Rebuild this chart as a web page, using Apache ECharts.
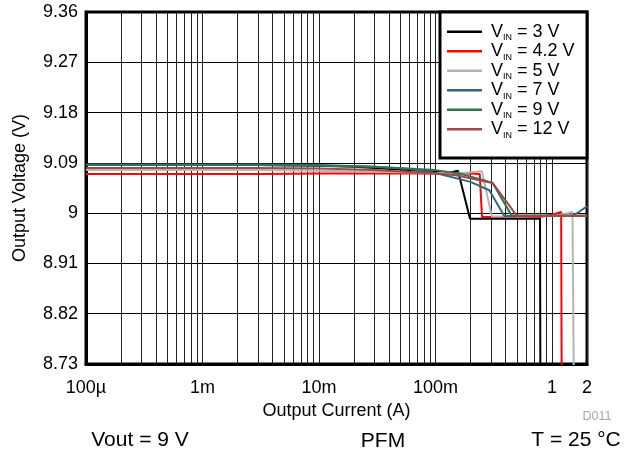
<!DOCTYPE html>
<html>
<head>
<meta charset="utf-8">
<script src="https://cdn.jsdelivr.net/npm/echarts@6/dist/echarts.min.js"></script>
<style>
html,body{margin:0;padding:0;background:#fff;}
#chart{width:624px;height:456px;}
</style>
</head>
<body>
<div id="chart"></div>
<script>
// ---- data (Output Current in A, Output Voltage in V) ----
const vinLabels = ['3 V', '4.2 V', '5 V', '7 V', '9 V', '12 V'];
const seriesColors = ['#000000', '#FF0000', '#B4B4B4', '#33667F', '#2F7550', '#A04848'];

const current_3V = [0.0001, 0.0003, 0.001, 0.003, 0.01, 0.02, 0.05, 0.1, 0.13, 0.156, 0.198, 0.3, 0.5, 0.79, 0.8];
const vout_3V    = [9.086, 9.086, 9.086, 9.086, 9.085, 9.083, 9.078, 9.074, 9.072, 9.076, 8.990, 8.990, 8.990, 8.990, 8.5];

const current_4V2 = [0.0001, 0.0003, 0.001, 0.003, 0.01, 0.03, 0.1, 0.2, 0.24, 0.251, 0.4, 0.78, 1.0, 1.2, 1.22];
const vout_4V2    = [9.070, 9.070, 9.070, 9.070, 9.071, 9.071, 9.071, 9.071, 9.070, 8.993, 8.993, 8.993, 8.997, 9.002, 8.5];

const current_5V = [0.0001, 0.0003, 0.001, 0.003, 0.01, 0.03, 0.1, 0.16, 0.2, 0.25, 0.305, 0.5, 1.0, 1.3, 1.5, 1.57];
const vout_5V    = [9.077, 9.077, 9.077, 9.077, 9.076, 9.074, 9.072, 9.071, 9.073, 9.075, 8.994, 8.994, 8.995, 8.999, 9.002, 8.5];

const current_7V = [0.0001, 0.0003, 0.001, 0.003, 0.01, 0.03, 0.06, 0.1, 0.2, 0.29, 0.39, 0.6, 1.0, 1.5, 1.7, 2.0];
const vout_7V    = [9.087, 9.087, 9.087, 9.087, 9.086, 9.083, 9.079, 9.072, 9.056, 9.041, 8.995, 8.995, 8.995, 8.996, 9.002, 9.012];

const current_9V = [0.0001, 0.0003, 0.001, 0.003, 0.01, 0.03, 0.1, 0.16, 0.25, 0.31, 0.45, 0.7, 1.0, 2.0];
const vout_9V    = [9.086, 9.086, 9.086, 9.086, 9.085, 9.083, 9.077, 9.071, 9.060, 9.054, 8.996, 8.996, 8.996, 8.996];

const current_12V = [0.0001, 0.0003, 0.001, 0.003, 0.01, 0.03, 0.1, 0.15, 0.31, 0.5, 0.7, 1.0, 2.0];
const vout_12V    = [9.081, 9.081, 9.081, 9.081, 9.080, 9.077, 9.071, 9.068, 9.054, 8.995, 8.995, 8.995, 8.995];

// ---- axis ticks ----
const xTickValues = [0.0001, 0.001, 0.01, 0.1, 1, 2];
const xTickLabels = ['100\u00b5', '1m', '10m', '100m', '1', '2'];
const xDecades = [0.0001, 0.001, 0.01, 0.1];
const xMinorMultipliers = [1, 2, 3, 4, 5, 6, 7, 8, 9];
const yMin = 8.73, yMax = 9.36, yInterval = 0.09;

const FONT = "'Liberation Sans', Arial, Helvetica, sans-serif";

const xGridValues = [];
xDecades.forEach(d => xMinorMultipliers.forEach(m => xGridValues.push(+(d * m).toPrecision(6))));
xGridValues.push(1, 2);

function pairs(xs, ys) { return xs.map((x, i) => [x, ys[i]]); }
const allData = [
  pairs(current_3V, vout_3V),
  pairs(current_4V2, vout_4V2),
  pairs(current_5V, vout_5V),
  pairs(current_7V, vout_7V),
  pairs(current_9V, vout_9V),
  pairs(current_12V, vout_12V)
];

function xLabel(v) {
  let best = 0, bd = Infinity;
  xTickValues.forEach((t, i) => {
    const d = Math.abs(Math.log10(v) - Math.log10(t));
    if (d < bd) { bd = d; best = i; }
  });
  return xTickLabels[best];
}

const chart = echarts.init(document.getElementById('chart'), null, { renderer: 'canvas' });

const option = {
  animation: false,
  backgroundColor: '#ffffff',
  textStyle: { fontFamily: FONT },
  grid: {
    left: 86, right: 37, top: 12, bottom: 92,
    show: true, borderColor: '#000', borderWidth: 3, backgroundColor: 'transparent',
    containLabel: false
  },
  xAxis: {
    type: 'log',
    logBase: 10,
    min: 0.0001,
    max: 2,
    name: 'Output Current (A)',
    nameLocation: 'middle',
    nameGap: 34,
    nameTextStyle: { fontSize: 18, color: '#000', fontFamily: FONT },
    axisLine: { show: true, lineStyle: { color: '#000', width: 3 } },
    axisTick: { show: false, customValues: xGridValues },
    minorTick: { show: false },
    axisLabel: {
      customValues: xTickValues,
      fontSize: 18, color: '#000', fontFamily: FONT, margin: 15,
      formatter: function (v) { return xLabel(v); }
    },
    splitLine: { show: true, lineStyle: { color: '#222', width: 1 } }
  },
  yAxis: {
    type: 'value',
    min: yMin, max: yMax, interval: yInterval,
    name: 'Output Voltage (V)',
    nameLocation: 'middle',
    nameGap: 57,
    nameTextStyle: { fontSize: 18, color: '#000', fontFamily: FONT },
    axisLine: { show: true, lineStyle: { color: '#000', width: 3 } },
    axisTick: { show: false },
    axisLabel: { fontSize: 18, color: '#000', fontFamily: FONT, margin: 8 },
    splitLine: { show: true, lineStyle: { color: '#000', width: 1 } }
  },
  legend: {
    orient: 'vertical',
    left: 447,
    top: 22.8,
    padding: 0,
    itemGap: 0,
    itemWidth: 35,
    itemHeight: 2.5,
    icon: 'rect',
    selectedMode: false,
    z: 10,
    formatter: function (name) {
      const rest = name.replace(/^VIN /, '');
      return '{v|V}{s|IN}{r| ' + rest + '}';
    },
    textStyle: {
      color: '#000',
      fontFamily: FONT,
      rich: {
        v: { fontSize: 18, lineHeight: 21, fontFamily: FONT, color: '#000', padding: [0, 0, 0, 4] },
        s: { fontSize: 9, lineHeight: 5, verticalAlign: 'bottom', fontFamily: FONT, color: '#000' },
        r: { fontSize: 18, lineHeight: 21, fontFamily: FONT, color: '#000' }
      }
    },
    data: vinLabels.map(l => 'VIN = ' + l)
  },
  graphic: [
    {
      type: 'rect', z: 5,
      shape: { x: 440, y: 12, width: 147, height: 146 },
      style: { fill: '#fff', stroke: '#000', lineWidth: 3 }
    },
    {
      type: 'text', z: 5, x: 140, y: 440,
      style: { text: 'Vout = 9 V', fontSize: 21, fontFamily: FONT, fill: '#000', align: 'center', verticalAlign: 'middle' }
    },
    {
      type: 'text', z: 5, x: 383, y: 441,
      style: { text: 'PFM', fontSize: 21, fontFamily: FONT, fill: '#000', align: 'center', verticalAlign: 'middle' }
    },
    {
      type: 'text', z: 5, x: 576, y: 440,
      style: { text: 'T = 25 \u00b0C', fontSize: 21, fontFamily: FONT, fill: '#000', align: 'center', verticalAlign: 'middle' }
    },
    {
      type: 'text', z: 5, x: 597, y: 417,
      style: { text: 'D011', fontSize: 12.5, fontFamily: FONT, fill: '#A8A8A8', align: 'center', verticalAlign: 'middle' }
    }
  ],
  series: vinLabels.map((l, i) => ({
    name: 'VIN = ' + l,
    type: 'line',
    data: allData[i],
    showSymbol: false,
    symbol: 'none',
    clip: true,
    z: 2,
    color: seriesColors[i],
    lineStyle: { color: seriesColors[i], width: 2 },
    emphasis: { disabled: true }
  }))
};

chart.setOption(option);
</script>
</body>
</html>
